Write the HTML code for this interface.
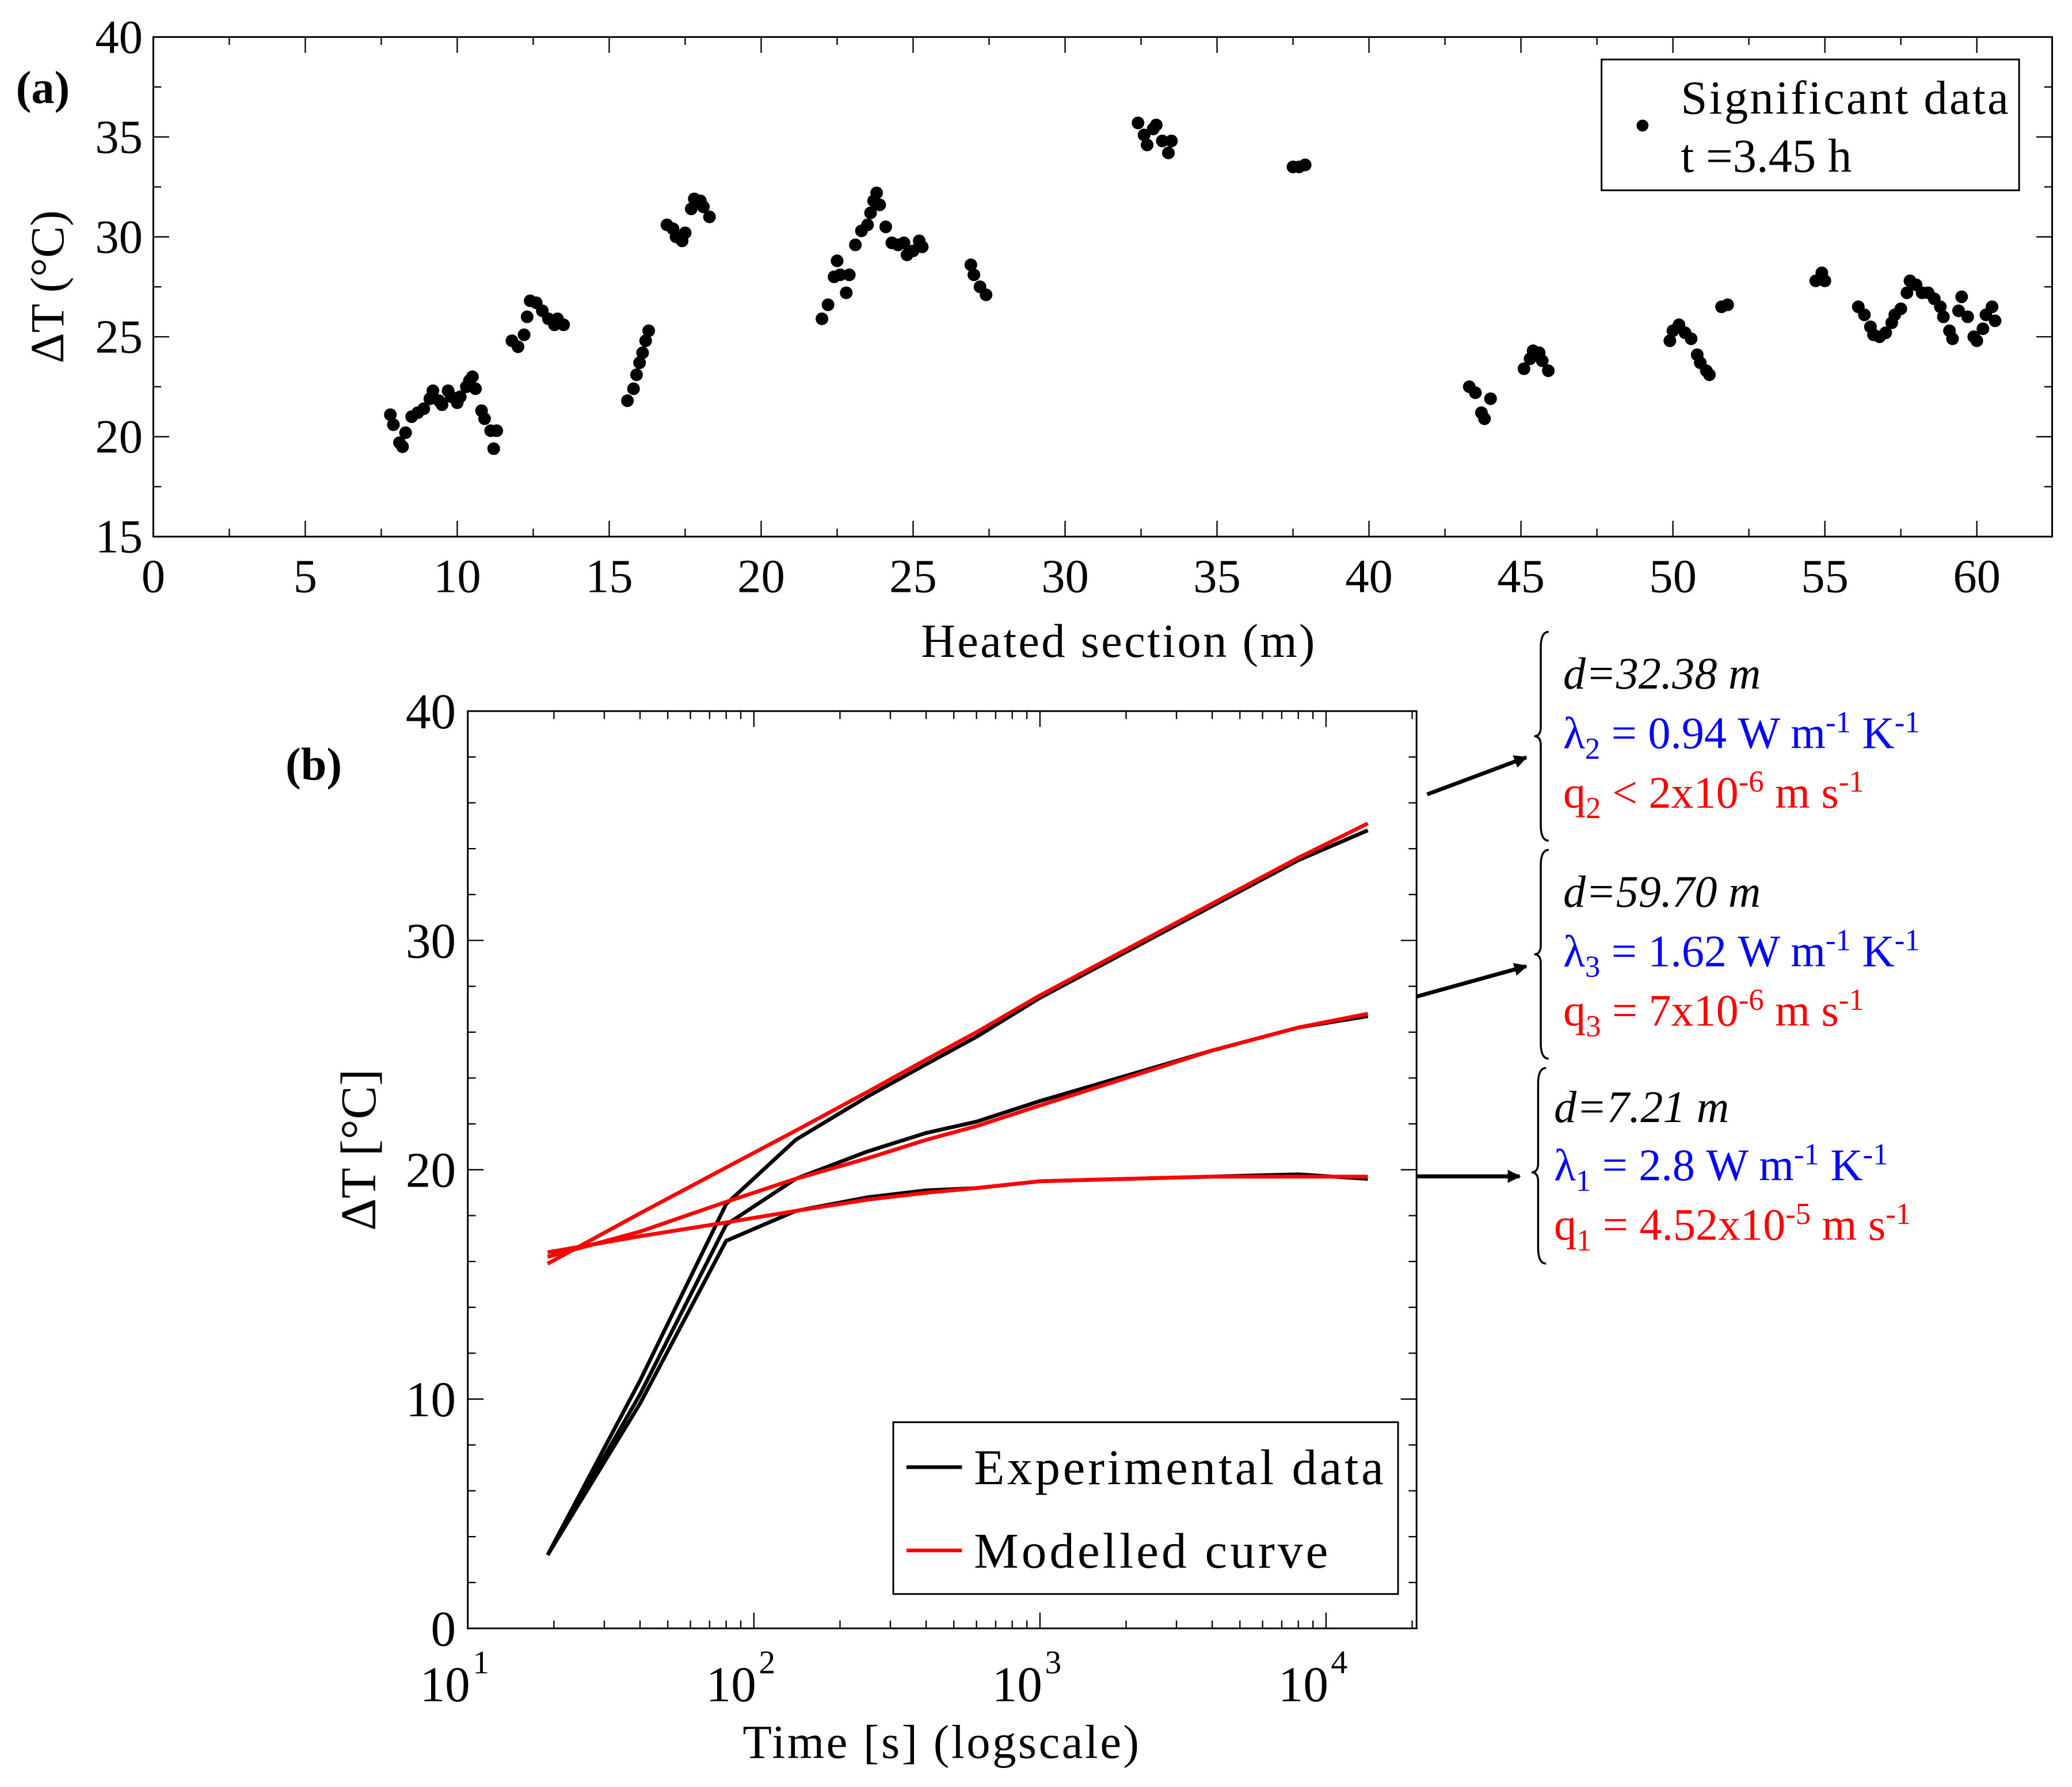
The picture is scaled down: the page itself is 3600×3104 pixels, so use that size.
<!DOCTYPE html>
<html><head><meta charset="utf-8"><style>
html,body{margin:0;padding:0;background:#fff;}
svg{display:block;font-family:"Liberation Serif",serif;}
</style></head><body>
<svg id="s" xmlns="http://www.w3.org/2000/svg" width="3600" height="3104" viewBox="0 0 1568 1352">
<rect width="1568" height="1352" fill="#fff"/>
<g id="pa"></g>
<g id="pb"></g>
<text x="12" y="78" font-size="35" font-weight="bold">(a)</text>
<text x="216" y="590" font-size="35" font-weight="bold">(b)</text>
<text transform="translate(48,217) rotate(-90)" text-anchor="middle" font-size="36">ΔT (°C)</text>
<text x="846" y="497" text-anchor="middle" font-size="36" textLength="298">Heated section (m)</text>
<text transform="translate(284,870) rotate(-90)" text-anchor="middle" font-size="38">ΔT [°C]</text>
<text x="712" y="1330" text-anchor="middle" font-size="36" textLength="300">Time [s] (logscale)</text>
<g>
<rect x="1212" y="45" width="316" height="99" fill="#fff" stroke="#000" stroke-width="1.3"/>
<circle cx="1243" cy="95" r="4.5" fill="#000"/>
<text x="1272" y="86" font-size="36" textLength="248">Significant data</text>
<text x="1272" y="130" font-size="36">t =3.45 h</text>
</g>
<g>
<rect x="676" y="1076" width="382" height="130" fill="#fff" stroke="#000" stroke-width="1.3"/>
<line x1="686" y1="1110" x2="728" y2="1110" stroke="#000" stroke-width="2.8"/>
<text x="737" y="1123" font-size="38" textLength="310">Experimental data</text>
<line x1="686" y1="1173" x2="728" y2="1173" stroke="#f00" stroke-width="2.8"/>
<text x="737" y="1186" font-size="38" textLength="268">Modelled curve</text>
</g>
<defs><marker id="ar" markerWidth="10" markerHeight="10" refX="9" refY="5" orient="auto" markerUnits="userSpaceOnUse"><path d="M0,0 L10,5 L0,10 z" fill="#000"/></marker></defs>
<g font-size="34">
<line x1="1080" y1="601" x2="1155" y2="573" stroke="#000" stroke-width="3" marker-end="url(#ar)"/>
<line x1="1072" y1="754" x2="1155" y2="731" stroke="#000" stroke-width="3" marker-end="url(#ar)"/>
<line x1="1072" y1="890" x2="1150" y2="890" stroke="#000" stroke-width="3" marker-end="url(#ar)"/>
<path d="M1172,478 Q1166,478 1166,490 L1166,550 Q1166,557 1161,557 Q1166,557 1166,564 L1166,624 Q1166,636 1172,636" fill="none" stroke="#000" stroke-width="1.5"/>
<path d="M1172,643 Q1166,643 1166,655 L1166,715 Q1166,722 1161,722 Q1166,722 1166,729 L1166,789 Q1166,801 1172,801" fill="none" stroke="#000" stroke-width="1.5"/>
<path d="M1170,808 Q1164,808 1164,820 L1164,880 Q1164,887 1159,887 Q1164,887 1164,894 L1164,944 Q1164,956 1170,956" fill="none" stroke="#000" stroke-width="1.5"/>
<text x="1183" y="521" font-style="italic">d=32.38 m</text>
<text x="1183" y="566" fill="#00f">λ<tspan font-size="23" dy="8">2</tspan><tspan dy="-8"> = 0.94 W m</tspan><tspan font-size="23" dy="-12">-1</tspan><tspan dy="12"> K</tspan><tspan font-size="23" dy="-12">-1</tspan></text>
<text x="1183" y="611" fill="#f00">q<tspan font-size="23" dy="8">2</tspan><tspan dy="-8"> &lt; 2x10</tspan><tspan font-size="23" dy="-12">-6</tspan><tspan dy="12"> m s</tspan><tspan font-size="23" dy="-12">-1</tspan></text>
<text x="1183" y="686" font-style="italic">d=59.70 m</text>
<text x="1183" y="731" fill="#00f">λ<tspan font-size="23" dy="8">3</tspan><tspan dy="-8"> = 1.62 W m</tspan><tspan font-size="23" dy="-12">-1</tspan><tspan dy="12"> K</tspan><tspan font-size="23" dy="-12">-1</tspan></text>
<text x="1183" y="776" fill="#f00">q<tspan font-size="23" dy="8">3</tspan><tspan dy="-8"> = 7x10</tspan><tspan font-size="23" dy="-12">-6</tspan><tspan dy="12"> m s</tspan><tspan font-size="23" dy="-12">-1</tspan></text>
<text x="1176" y="849" font-style="italic">d=7.21 m</text>
<text x="1176" y="893" fill="#00f">λ<tspan font-size="23" dy="8">1</tspan><tspan dy="-8"> = 2.8 W m</tspan><tspan font-size="23" dy="-12">-1</tspan><tspan dy="12"> K</tspan><tspan font-size="23" dy="-12">-1</tspan></text>
<text x="1176" y="938" fill="#f00">q<tspan font-size="23" dy="8">1</tspan><tspan dy="-8"> = 4.52x10</tspan><tspan font-size="23" dy="-12">-5</tspan><tspan dy="12"> m s</tspan><tspan font-size="23" dy="-12">-1</tspan></text>
</g>
</svg>
<script>
// Panel (a) data
const posX = [7.8,7.9,8.1,8.2,8.3,8.5,8.7,8.9,9.1,9.2,9.4,9.5,9.7,9.8,10.0,10.1,10.3,10.4,10.5,10.6,10.8,10.9,11.1,11.2,11.3,
11.8,12.0,12.2,12.3,12.4,12.6,12.8,13.0,13.2,13.3,13.5,
15.6,15.8,15.9,16.0,16.1,16.2,16.3,
16.9,17.1,17.2,17.4,17.5,17.7,17.8,18.0,18.1,18.3,
22.0,22.2,22.4,22.5,22.6,22.8,22.9,23.1,23.3,23.5,23.6,23.7,23.8,23.9,24.1,24.3,24.5,24.7,24.8,25.0,25.2,25.3,
26.9,27.0,27.2,27.4,
32.4,32.6,32.7,32.9,33.0,33.2,33.4,33.5,
37.5,37.7,37.9,
43.3,43.5,43.7,43.8,44.0,
45.1,45.3,45.4,45.6,45.7,45.9,
49.9,50.0,50.2,50.4,50.6,50.8,50.9,51.1,51.2,51.6,51.8,
54.7,54.9,55.0,
56.1,56.3,56.5,56.6,56.8,57.0,57.2,57.3,57.5,57.7,57.8,58.0,58.2,58.4,58.6,58.8,58.9,59.1,59.2,59.4,59.5,59.7,59.9,60.0,60.2,60.3,60.5,60.6];
const dT = [21.1,20.6,19.7,19.5,20.2,21.0,21.2,21.4,21.9,22.3,21.8,21.6,22.3,22.0,21.7,22.0,22.5,22.8,23.0,22.4,21.3,20.9,20.3,19.4,20.3,
24.8,24.5,25.1,26.0,26.8,26.7,26.3,25.9,25.6,25.9,25.6,
21.8,22.4,23.1,23.7,24.2,24.8,25.3,
30.6,30.4,30.0,29.8,30.2,31.4,31.9,31.8,31.5,31.0,
25.9,26.6,28.0,28.8,28.1,27.2,28.1,29.6,30.3,30.6,31.2,31.8,32.2,31.6,30.5,29.7,29.6,29.7,29.1,29.3,29.8,29.5,
28.6,28.1,27.5,27.1,
35.7,35.1,34.6,35.4,35.6,34.8,34.2,34.8,
33.5,33.5,33.6,
22.5,22.2,21.2,20.9,21.9,
23.4,23.9,24.3,24.2,23.8,23.3,
24.8,25.3,25.6,25.2,24.9,24.1,23.7,23.3,23.1,26.5,26.6,
27.8,28.2,27.8,
26.5,26.1,25.5,25.1,25.0,25.2,25.7,26.1,26.4,27.2,27.8,27.6,27.2,27.2,26.9,26.5,26.0,25.3,24.9,26.3,27.0,26.0,25.0,24.8,25.4,26.1,26.5,25.8];
const aXTicks = [0,5,10,15,20,25,30,35,40,45,50,55,60];
const aYTicks = [15,20,25,30,35,40];
// Panel (b) data
const bTime = [19,40,80,140,250,400,600,1000,2000,4000,8000,14000];
const exp2 = [3.2,10.8,18.5,21.3,23.2,24.6,25.8,27.5,29.5,31.5,33.5,34.8];
const exp3 = [3.2,10.2,17.6,19.6,20.8,21.6,22.1,23.0,24.1,25.2,26.2,26.7];
const exp1 = [3.2,9.8,16.9,18.2,18.8,19.1,19.2,19.5,19.6,19.7,19.8,19.6];
const mod2 = [15.9,18.1,20.1,21.7,23.4,24.8,26.0,27.6,29.6,31.6,33.6,35.1];
const mod3 = [16.2,17.3,18.6,19.6,20.5,21.3,21.9,22.8,24.0,25.2,26.2,26.8];
const mod1 = [16.4,17.1,17.7,18.2,18.7,19.0,19.2,19.5,19.6,19.7,19.7,19.7];
const bYTicks = [0,10,20,30,40];
const bXDecades = [1,2,3,4];

const NS='http://www.w3.org/2000/svg';
function mk(p,tag,at){const e=document.createElementNS(NS,tag);for(const k in at)e.setAttribute(k,at[k]);p.appendChild(e);return e;}

const A={l:116,r:1553,t:28,b:406,x0:0,x1:(1553-116)/23,y0:15,y1:40};
const ax=v=>A.l+(v-A.x0)/(A.x1-A.x0)*(A.r-A.l);
const ay=v=>A.b-(v-A.y0)/(A.y1-A.y0)*(A.b-A.t);
const pa=document.getElementById('pa');
const fa=mk(pa,'rect',{x:A.l,y:A.t,width:A.r-A.l,height:A.b-A.t,fill:'none',stroke:'#000','stroke-width':1.3});


for(let v=0;v<=A.x1;v+=2.5){const x=ax(v);const L=(v%5===0)?12:6;
mk(pa,'line',{x1:x,y1:A.b,x2:x,y2:A.b-L,stroke:'#000','stroke-width':1});
mk(pa,'line',{x1:x,y1:A.t,x2:x,y2:A.t+L,stroke:'#000','stroke-width':1});}
for(let v=15;v<=40;v+=2.5){const y=ay(v);const L=(v%5===0)?12:6;
mk(pa,'line',{x1:A.l,y1:y,x2:A.l+L,y2:y,stroke:'#000','stroke-width':1});
mk(pa,'line',{x1:A.r,y1:y,x2:A.r-L,y2:y,stroke:'#000','stroke-width':1});}
aXTicks.forEach(v=>{const t=mk(pa,'text',{x:ax(v),y:448,'text-anchor':'middle','font-size':36});t.textContent=v;

});
aYTicks.forEach(v=>{const t=mk(pa,'text',{x:108,y:ay(v)+12,'text-anchor':'end','font-size':36});t.textContent=v;

});
posX.forEach((v,i)=>{const c=mk(pa,'circle',{cx:ax(v),cy:ay(dT[i]),r:4.8,fill:'#000'});

});

const B={l:354,r:1072,t:538,b:1232,lx0:1,lx1:1+(1072-354)/216.5,y0:0,y1:40};
const bx=v=>B.l+(Math.log10(v)-B.lx0)/(B.lx1-B.lx0)*(B.r-B.l);
const by=v=>B.b-(v-B.y0)/(B.y1-B.y0)*(B.b-B.t);
const pb=document.getElementById('pb');
const fb=mk(pb,'rect',{x:B.l,y:B.t,width:B.r-B.l,height:B.b-B.t,fill:'none',stroke:'#000','stroke-width':1.3});


for(let d=1;d<=4;d++){for(let m=1;m<=9;m++){const v=m*Math.pow(10,d);if(Math.log10(v)>B.lx1)break;const x=bx(v);const L=m===1?12:6;
mk(pb,'line',{x1:x,y1:B.b,x2:x,y2:B.b-L,stroke:'#000','stroke-width':1});
mk(pb,'line',{x1:x,y1:B.t,x2:x,y2:B.t+L,stroke:'#000','stroke-width':1});}}
for(let v=0;v<=40;v+=2){const y=by(v);const L=(v%10===0)?12:6;
mk(pb,'line',{x1:B.l,y1:y,x2:B.l+L,y2:y,stroke:'#000','stroke-width':1});
mk(pb,'line',{x1:B.r,y1:y,x2:B.r-L,y2:y,stroke:'#000','stroke-width':1});}
bYTicks.forEach(v=>{const t=mk(pb,'text',{x:345,y:by(v)+13,'text-anchor':'end','font-size':38});t.textContent=v;

});
bXDecades.forEach(d=>{const t=mk(pb,'text',{x:bx(Math.pow(10,d))-10,y:1287,'text-anchor':'middle','font-size':38});
t.textContent='10';
const s=mk(t,'tspan',{'font-size':25,dy:-21,dx:2});s.textContent=d;

});
function line(vals,color,name){const d=bTime.map((t,i)=>(i?'L':'M')+bx(t).toFixed(1)+','+by(vals[i]).toFixed(1)).join(' ');
const p=mk(pb,'path',{d:d,fill:'none',stroke:color,'stroke-width':2.9,'stroke-linejoin':'round'});

}
line(exp1,'#000','experimental-d7');
line(exp3,'#000','experimental-d59');
line(exp2,'#000','experimental-d32');
line(mod1,'#f00','model-d7');
line(mod3,'#f00','model-d59');
line(mod2,'#f00','model-d32');
</script>
</body></html>
